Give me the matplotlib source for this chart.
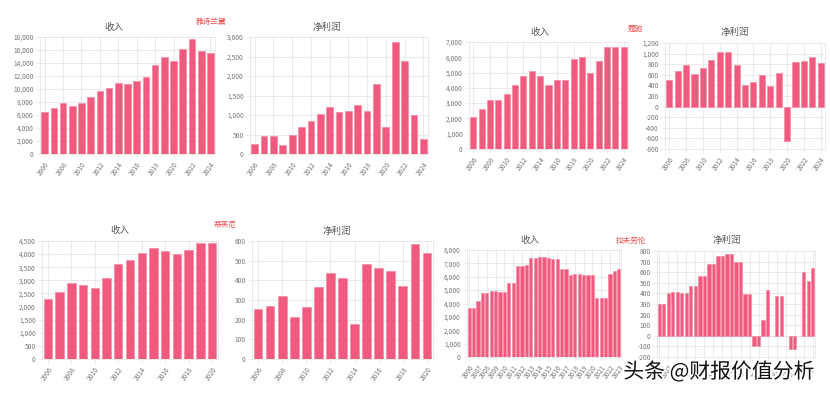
import matplotlib
matplotlib.use("Agg")
import matplotlib.pyplot as plt
import matplotlib.patheffects as pe
from matplotlib.ticker import FuncFormatter
import numpy as np

plt.rcParams["font.family"] = ["Noto Sans CJK SC", "DejaVu Sans"]

# ---- data ----
years_19 = [str(y) for y in range(2006, 2025)]
years_15 = [str(y) for y in range(2006, 2021)]

el_revenue = [6464, 7038, 7911, 7324, 7796, 8810, 9714, 10182, 10969, 10780,
              11262, 11824, 13683, 14863, 14294, 16215, 17737, 15910, 15608]
el_profit = [244, 449, 474, 218, 478, 700, 857, 1019, 1204, 1089,
             1115, 1249, 1108, 1785, 684, 2870, 2390, 1006, 390]

coach_revenue = [2111, 2612, 3181, 3230, 3608, 4159, 4763, 5075, 4806, 4192,
                 4492, 4488, 5880, 6027, 4961, 5746, 6684, 6661, 6671]
coach_profit = [494, 664, 783, 623, 735, 881, 1039, 1034, 781, 402,
                461, 591, 398, 643, -652, 834, 856, 936, 816]

tiffany_revenue = [2300, 2560, 2900, 2830, 2700, 3070, 3630, 3780, 4030, 4250,
                   4100, 4000, 4170, 4440, 4420]
tiffany_profit = [255, 270, 320, 215, 262, 365, 437, 412, 180, 484,
                  464, 446, 370, 586, 541]

rl_revenue = [3700, 3700, 4200, 4800, 4800, 4900, 4900, 4850, 4850, 5500,
              5500, 6800, 6800, 6900, 7400, 7400, 7500, 7500, 7400, 7300,
              7300, 6600, 6600, 6100, 6200, 6200, 6100, 6100, 6100, 4400,
              4400, 4400, 6200, 6400, 6600]
rl_profit = [300, 300, 400, 410, 410, 400, 400, 470, 470, 560,
             560, 680, 680, 750, 750, 770, 770, 700, 700, 390,
             390, -100, -100, 150, 430, None, 380, 380, None, -120,
             -120, None, 600, 520, 640]
rl_tick_labels = [str(y) for y in range(2006, 2024)]

BAR = "#F05A7E"
EDGE = "#F58AA3"
GRID = "#e6e6e6"

W, H = 830, 395
fig = plt.figure(figsize=(8.3, 3.95), dpi=100)


def px_axes(x0, y0, x1, y1):
    return fig.add_axes([x0 / W, 1 - y1 / H, (x1 - x0) / W, (y1 - y0) / H])


def px_text(x, y, s, **kw):
    fig.text(x / W, 1 - y / H, s, ha="center", va="center", zorder=10, **kw)


def bar_panel(box, values, labels, ylim, step, title, title_xy):
    ax = px_axes(*box)
    ax.patch.set_alpha(0)
    vals = [np.nan if v is None else v for v in values]
    x = np.arange(len(vals))
    ax.bar(x, vals, width=0.72, color=BAR, edgecolor=EDGE, linewidth=0.5, zorder=3)
    ax.set_xlim(-0.5, len(vals) - 0.5)
    ax.set_yticks(np.arange(ylim[0], ylim[1] + step, step))
    ax.set_ylim(*ylim)
    ax.yaxis.set_major_formatter(FuncFormatter(lambda v, _: f"{int(round(v)):,}"))
    every = max(1, round(len(vals) / len(labels)))
    ax.set_xticks(x[::every][:len(labels)])
    ax.set_xticklabels(labels[:len(x[::every])], rotation=55, ha="right",
                       rotation_mode="anchor")
    ax.tick_params(axis="both", labelsize=4.8, colors="#777", length=3,
                   width=0.5, pad=1.5)
    ax.tick_params(axis="both", color=GRID)
    ax.grid(True, color=GRID, linewidth=0.6, zorder=0)
    for s in ax.spines.values():
        s.set_color(GRID)
        s.set_linewidth(0.6)
    if ylim[0] < 0:
        ax.axhline(0, color="#cfcfcf", linewidth=0.6, zorder=1)
    px_text(*title_xy, title, fontsize=6.8, color="#555")
    return ax


bar_panel((40, 37, 215, 154), el_revenue, years_19[::2], (0, 18000), 2000, "收入", (114, 27))
bar_panel((250, 37, 428, 154), el_profit, years_19[::2], (0, 3000), 500, "净利润", (327, 27))
bar_panel((469, 42, 628, 149), coach_revenue, years_19[::2], (0, 7000), 1000, "收入", (540, 32))
bar_panel((665, 43, 825, 149), coach_profit, years_19[::2], (-800, 1200), 200, "净利润", (735, 32))
bar_panel((42, 241, 218, 359), tiffany_revenue, years_15[::2], (0, 4500), 500, "收入", (120, 230))
bar_panel((252, 241, 433, 359), tiffany_profit, years_15[::2], (0, 600), 100, "净利润", (337, 231))
bar_panel((467, 250, 621, 357), rl_revenue, rl_tick_labels, (0, 8000), 1000, "收入", (530, 240))
bar_panel((657, 251, 815, 357), rl_profit, rl_tick_labels, (-200, 800), 100, "净利润", (727, 240))

red = "#F04B4B"
px_text(211, 22, "雅诗兰黛", fontsize=5.5, color=red)
px_text(635, 29, "蔻驰", fontsize=5.5, color=red)
px_text(225, 225, "蒂芙尼", fontsize=5.5, color=red)
px_text(631, 241, "拉夫劳伦", fontsize=5.5, color=red)

fig.text(719 / W, 1 - 372 / H, "头条 @财报价值分析", ha="center", va="center",
         fontsize=15, color="#111", zorder=10,
         path_effects=[pe.withStroke(linewidth=3, foreground="white")])

fig.savefig("out.png", dpi=100, facecolor="white")
